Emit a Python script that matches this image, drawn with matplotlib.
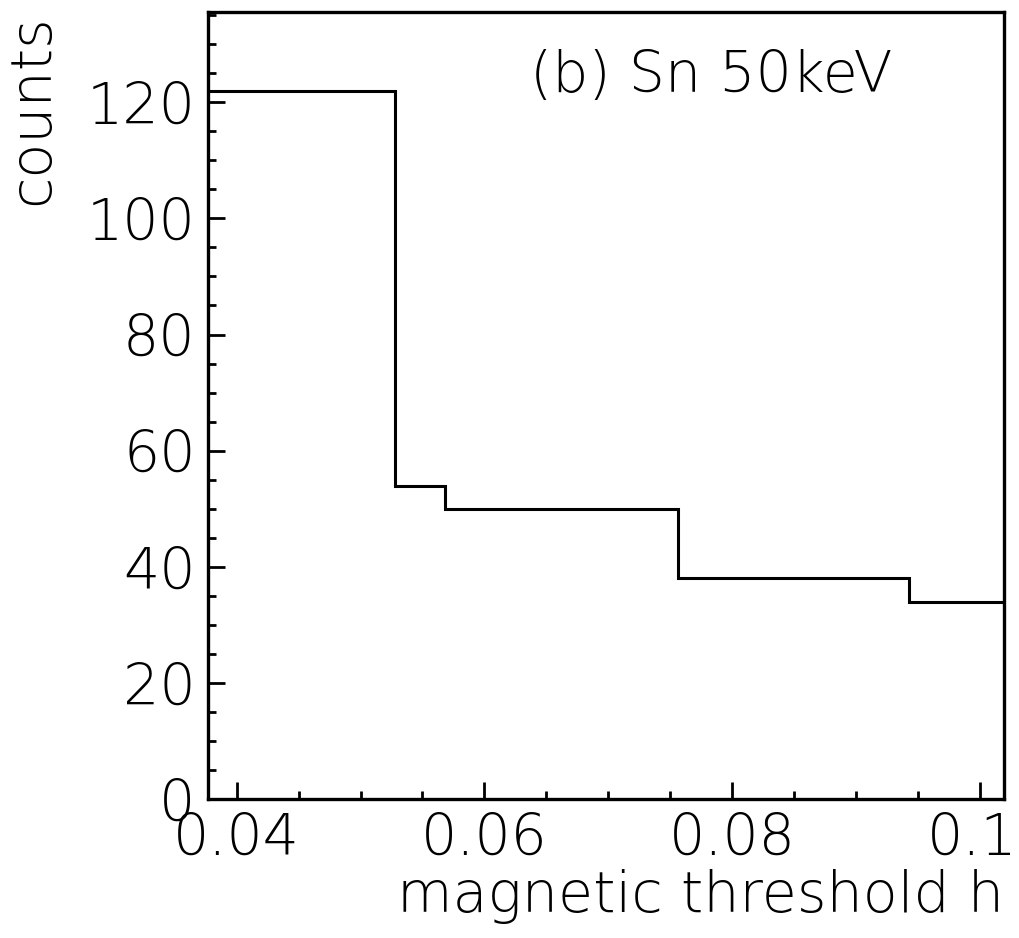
import matplotlib
matplotlib.use("Agg")
import matplotlib.pyplot as plt
from matplotlib.ticker import MultipleLocator
from matplotlib.transforms import ScaledTranslation

# bin edges (magnetic threshold h) and counts
edges = [0.0377, 0.0528, 0.0568, 0.0756, 0.0943, 0.1019]
counts = [122, 54, 50, 38, 34]

xticks = [0.04, 0.06, 0.08, 0.10]
xticklabels = ["0.04", "0.06", "0.08", "0.1"]
yticks = [0, 20, 40, 60, 80, 100, 120]

plt.rcParams['font.family'] = ['DejaVu Sans']
plt.rcParams['font.weight'] = 'light'

fig = plt.figure(figsize=(10.2, 9.38), dpi=100)
ax = fig.add_axes([0.204, 0.148, 0.780, 0.839])

ax.stairs(counts, edges, baseline=None, color='black', linewidth=2.2)

ax.set_xlim(0.0377, 0.1019)
ax.set_ylim(0, 135.5)

ax.set_xticks(xticks)
ax.set_xticklabels(xticklabels)
ax.set_yticks(yticks)
ax.xaxis.set_minor_locator(MultipleLocator(0.005))
ax.yaxis.set_minor_locator(MultipleLocator(5))

ax.tick_params(which='both', direction='in', top=False, right=False,
               labelsize=41, width=2, color='black')
ax.tick_params(axis='x', which='major', length=12, pad=9)
ax.tick_params(axis='y', which='major', length=12, pad=9)
ax.tick_params(which='minor', length=6)

# dernier label décalé un peu à gauche pour rester dans l'image
lab = ax.get_xticklabels()[-1]
lab.set_transform(lab.get_transform() + ScaledTranslation(-8 / 100, 0, fig.dpi_scale_trans))

for s in ax.spines.values():
    s.set_linewidth(2.4)

ax.set_xlabel("magnetic threshold h", fontsize=41, fontweight='light',
              loc='right', labelpad=2)
fig.text(33 / 1020, 1 - 14 / 938, "counts", rotation=90, fontsize=41,
         fontweight='light', ha='center', va='top')

ax.text(0.405, 0.898, "(b) Sn 50keV", transform=ax.transAxes,
        fontsize=41, ha='left', va='baseline')

fig.savefig("out.png", dpi=100)
